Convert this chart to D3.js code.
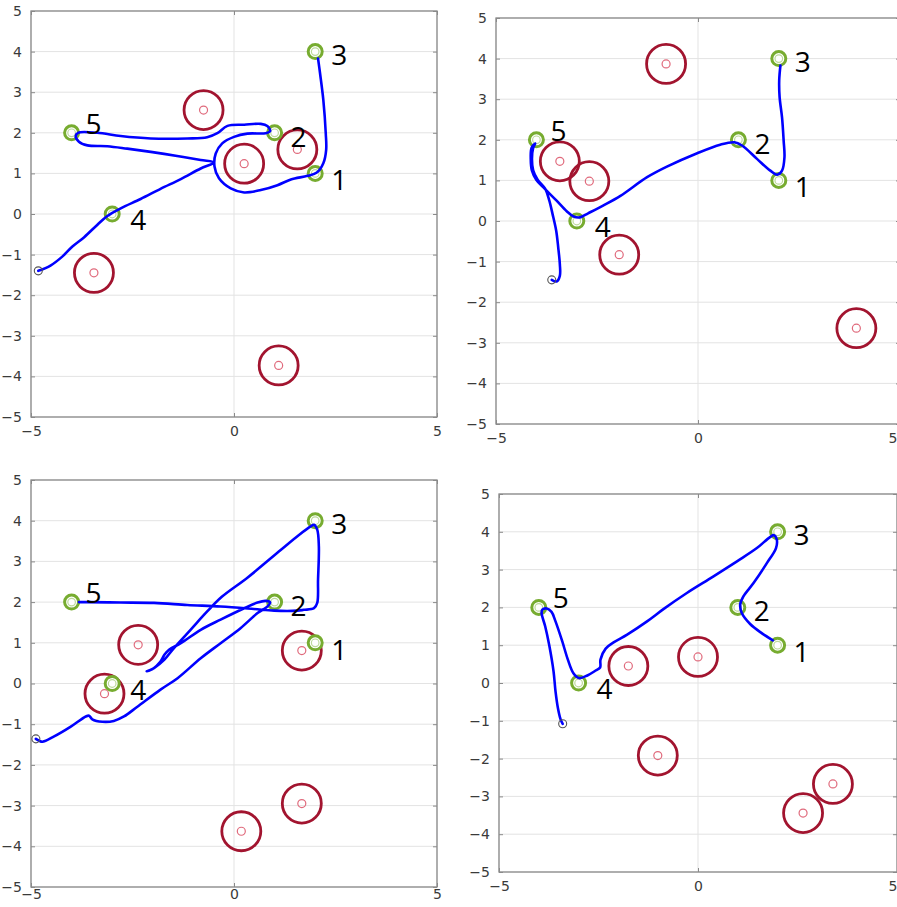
<!DOCTYPE html>
<html>
<head>
<meta charset="utf-8">
<script src="https://cdn.jsdelivr.net/npm/d3@7"></script>
<style>
  html, body { margin: 0; padding: 0; background: #fff; }
  svg { display: block; }
</style>
</head>
<body>
<svg id="chart" width="897" height="907"></svg>
<script>
// Waypoints visited by the robot, numbered 1..5
const targetLabels = ["1", "2", "3", "4", "5"];
const targetX = [2, 1, 2, -3, -4];
const targetY = [1, 2, 4, 0, 2];

// Axis ticks
const xTicks = [-5, 0, 5];
const yTicks = [-5, -4, -3, -2, -1, 0, 1, 2, 3, 4, 5];

// Scenario A: obstacle centres and travelled path
const obstaclesA = [[-0.75, 2.56], [0.25, 1.24], [1.56, 1.59], [-3.45, -1.45], [1.10, -3.73]];
const pathA = [
  [-4.82, -1.40], [-4.52, -1.27], [-4.23, -1.05], [-3.98, -0.80], [-3.69, -0.57], [-3.37, -0.27],
  [-3.12, -0.05], [-2.79, 0.14], [-2.30, 0.37], [-1.81, 0.62], [-1.31, 0.86], [-0.82, 1.12],
  [-0.49, 1.27], [-0.82, 1.33], [-1.40, 1.43], [-2.05, 1.53], [-2.63, 1.61], [-3.12, 1.67],
  [-3.61, 1.69], [-3.82, 1.78], [-3.90, 1.92], [-3.84, 2.00], [-3.37, 2.00], [-2.79, 1.92],
  [-2.05, 1.86], [-1.15, 1.86], [-0.66, 1.89], [-0.41, 1.99], [-0.16, 2.17], [0.25, 2.20],
  [0.66, 2.22], [0.82, 2.17], [0.89, 2.04], [0.78, 1.99], [0.33, 1.98], [0.00, 1.90],
  [-0.29, 1.74], [-0.45, 1.49], [-0.48, 1.17], [-0.37, 0.88], [-0.08, 0.63], [0.25, 0.53],
  [0.66, 0.59], [1.07, 0.71], [1.40, 0.85], [1.81, 0.94], [2.04, 1.02], [2.20, 1.25],
  [2.27, 1.58], [2.26, 1.99], [2.20, 2.81], [2.12, 3.46], [2.07, 3.83]
];

// Scenario B
const obstaclesB = [[-0.79, 3.87], [-3.42, 1.47], [-2.69, 0.98], [-1.95, -0.83], [3.92, -2.64]];
const pathB = [
  [-3.62, -1.45], [-3.50, -1.49], [-3.42, -1.35], [-3.42, -1.06], [-3.46, -0.65], [-3.51, -0.24],
  [-3.60, 0.17], [-3.68, 0.50], [-3.78, 0.79], [-3.97, 1.02], [-4.08, 1.25], [-4.11, 1.53],
  [-4.08, 1.80], [-4.03, 1.91], [-4.12, 1.80], [-4.14, 1.53], [-4.11, 1.24], [-4.00, 1.01],
  [-3.79, 0.79], [-3.50, 0.50], [-3.25, 0.24], [-3.08, 0.11], [-2.92, 0.09], [-2.72, 0.19],
  [-2.35, 0.38], [-1.92, 0.62], [-1.26, 1.08], [-0.77, 1.34], [-0.02, 1.67],
  [0.55, 1.88], [0.90, 1.94], [1.09, 1.86], [1.46, 1.53], [1.79, 1.24], [1.96, 1.14],
  [2.08, 1.24], [2.14, 1.57], [2.12, 1.98], [2.08, 2.55], [2.02, 3.05], [2.01, 3.46], [2.04, 3.83]
];

// Scenario C
const obstaclesC = [[-2.36, 0.95], [-3.19, -0.25], [1.67, 0.81], [1.67, -2.95], [0.18, -3.63]];
const pathC = [
  [-4.88, -1.36], [-4.72, -1.43], [-4.43, -1.30], [-4.02, -1.06], [-3.65, -0.81], [-3.57, -0.79],
  [-3.49, -0.88], [-3.24, -0.94], [-2.96, -0.92], [-2.71, -0.81], [-2.38, -0.57], [-1.81, -0.15],
  [-1.39, 0.13], [-0.82, 0.62], [-0.33, 0.99], [0.16, 1.36], [0.58, 1.73], [0.82, 1.89],
  [0.89, 1.99], [0.78, 2.03], [0.58, 1.99], [0.25, 1.85], [-0.33, 1.57], [-0.82, 1.32],
  [-1.31, 0.99], [-1.60, 0.83], [-1.71, 0.71], [-1.81, 0.54], [-2.01, 0.35], [-2.15, 0.30],
  [-1.97, 0.38], [-1.72, 0.58], [-1.48, 0.87], [-1.07, 1.32], [-0.66, 1.77], [-0.30, 2.13],
  [0.33, 2.60], [1.15, 3.28], [1.60, 3.65], [1.89, 3.86], [1.97, 3.90], [2.05, 3.78],
  [2.09, 3.37], [2.07, 2.55], [2.05, 1.98], [1.97, 1.85], [1.72, 1.81], [1.56, 1.79],
  [0.99, 1.79], [0.49, 1.83], [-0.33, 1.89], [-1.15, 1.93], [-1.97, 1.98], [-2.79, 1.99],
  [-3.61, 2.00], [-3.82, 2.00]
];

// Scenario D
const obstaclesD = [[-1.75, 0.45], [0.00, 0.69], [-1.01, -1.92], [3.39, -2.67], [2.64, -3.44]];
const pathD = [
  [-3.40, -1.08], [-3.45, -0.97], [-3.52, -0.66], [-3.58, -0.22], [-3.63, 0.31], [-3.74, 1.01],
  [-3.84, 1.50], [-3.93, 1.85], [-3.91, 1.94], [-3.80, 1.97], [-3.68, 1.88], [-3.58, 1.63],
  [-3.41, 1.10], [-3.27, 0.62], [-3.13, 0.26], [-2.99, 0.13], [-2.78, 0.20], [-2.57, 0.33],
  [-2.46, 0.41], [-2.45, 0.62], [-2.32, 0.91], [-2.11, 1.08], [-1.78, 1.28], [-1.28, 1.63],
  [-0.86, 1.96], [-0.28, 2.38], [0.39, 2.82], [0.98, 3.22], [1.48, 3.57], [1.81, 3.86],
  [1.91, 3.91], [1.98, 3.79], [1.96, 3.57], [1.73, 3.17], [1.40, 2.65], [1.14, 2.29],
  [1.06, 2.07], [1.10, 1.85], [1.31, 1.56], [1.60, 1.32], [1.88, 1.13]
];

// Page size and panel frames (pixel box of each plot area)
const W = 897, H = 907;
const panels = [
  { left: 31,  right: 437, top: 11,  bottom: 417, obstacles: obstaclesA, path: pathA },
  { left: 496, right: 900, top: 18,  bottom: 424, obstacles: obstaclesB, path: pathB },
  { left: 31,  right: 437, top: 480, bottom: 887, obstacles: obstaclesC, path: pathC },
  { left: 499, right: 897, top: 494, bottom: 872, obstacles: obstaclesD, path: pathD }
];

// Offsets of the waypoint numbers from their markers (px)
const labelOffset = [[16, 6], [16, 3], [16, 2], [18, 5], [14, -10]];
const tickFont = 14;

const svg = d3.select("#chart");

panels.forEach(p => {
  const x = d3.scaleLinear().domain([-5, 5]).range([p.left, p.right]);
  const y = d3.scaleLinear().domain([-5, 5]).range([p.bottom, p.top]);
  const g = svg.append("g");

  // grid lines
  g.append("g").selectAll("line").data(yTicks).join("line")
    .attr("x1", p.left).attr("x2", p.right)
    .attr("y1", d => y(d)).attr("y2", d => y(d))
    .attr("stroke", "#e3e3e3").attr("stroke-width", 1);
  g.append("g").selectAll("line").data(xTicks).join("line")
    .attr("x1", d => x(d)).attr("x2", d => x(d))
    .attr("y1", p.top).attr("y2", p.bottom)
    .attr("stroke", "#e3e3e3").attr("stroke-width", 1);

  // axes (ticks point inward, labels outside)
  const bottomPad = Math.min(9, H - p.bottom - tickFont - 4);
  const yAxisL = d3.axisLeft(y).tickValues(yTicks).tickSize(-4).tickPadding(9).tickFormat(d3.format("d"));
  const yAxisR = d3.axisRight(y).tickValues(yTicks).tickSize(-4).tickFormat("");
  const xAxisB = d3.axisBottom(x).tickValues(xTicks).tickSize(-4).tickPadding(bottomPad).tickFormat(d3.format("d"));
  const xAxisT = d3.axisTop(x).tickValues(xTicks).tickSize(-4).tickFormat("");

  const styleAxis = sel => {
    sel.select(".domain").remove();
    sel.selectAll(".tick line").attr("stroke", "#8a8a8a");
    sel.selectAll(".tick text").attr("fill", "#3a3a3a")
      .style("font-family", "'DejaVu Sans', sans-serif").style("font-size", tickFont + "px");
  };
  g.append("g").attr("transform", `translate(${p.left},0)`).call(yAxisL).call(styleAxis);
  g.append("g").attr("transform", `translate(${p.right},0)`).call(yAxisR).call(styleAxis);
  const xb = g.append("g").attr("transform", `translate(0,${p.bottom})`).call(xAxisB).call(styleAxis);
  // keep the last x label inside the page when the panel runs to the edge
  if (p.right >= W) {
    xb.selectAll(".tick").filter(d => d === 5).select("text")
      .attr("text-anchor", "end").attr("x", W - p.right);
  }
  g.append("g").attr("transform", `translate(0,${p.top})`).call(xAxisT).call(styleAxis);

  // frame
  g.append("rect")
    .attr("x", p.left).attr("y", p.top)
    .attr("width", p.right - p.left).attr("height", p.bottom - p.top)
    .attr("fill", "none").attr("stroke", "#8a8a8a").attr("stroke-width", 1.3);

  // obstacles
  const obs = g.append("g").selectAll("g").data(p.obstacles).join("g");
  obs.append("circle")
    .attr("cx", d => x(d[0])).attr("cy", d => y(d[1])).attr("r", 19.5)
    .attr("fill", "none").attr("stroke", "#A2142F").attr("stroke-width", 2.8);
  obs.append("circle")
    .attr("cx", d => x(d[0])).attr("cy", d => y(d[1])).attr("r", 4)
    .attr("fill", "none").attr("stroke", "#e06a7c").attr("stroke-width", 1.2);

  // waypoints
  const wp = g.append("g").selectAll("g").data(targetX.map((tx, i) => i)).join("g");
  wp.append("circle")
    .attr("cx", i => x(targetX[i])).attr("cy", i => y(targetY[i])).attr("r", 7)
    .attr("fill", "#fff").attr("stroke", "#77AC30").attr("stroke-width", 3);
  wp.append("circle")
    .attr("cx", i => x(targetX[i])).attr("cy", i => y(targetY[i])).attr("r", 3.8)
    .attr("fill", "none").attr("stroke", "#bcd99a").attr("stroke-width", 1.2);

  // travelled path
  const line = d3.line().x(d => x(d[0])).y(d => y(d[1])).curve(d3.curveCatmullRom.alpha(0.5));
  g.append("path").datum(p.path).attr("d", line)
    .attr("fill", "none").attr("stroke", "#0000ff").attr("stroke-width", 2.6)
    .attr("stroke-linejoin", "round").attr("stroke-linecap", "round");

  // start position
  g.append("circle")
    .attr("cx", x(p.path[0][0])).attr("cy", y(p.path[0][1])).attr("r", 4)
    .attr("fill", "none").attr("stroke", "#555").attr("stroke-width", 1.1);

  // waypoint numbers
  g.append("g").selectAll("text").data(targetLabels).join("text")
    .attr("x", (d, i) => x(targetX[i]) + labelOffset[i][0])
    .attr("y", (d, i) => y(targetY[i]) + labelOffset[i][1])
    .attr("dominant-baseline", "central")
    .attr("fill", "#000")
    .style("font-family", "'Open Sans', sans-serif").style("font-size", "28px")
    .text(d => d);
});
</script>
</body>
</html>
